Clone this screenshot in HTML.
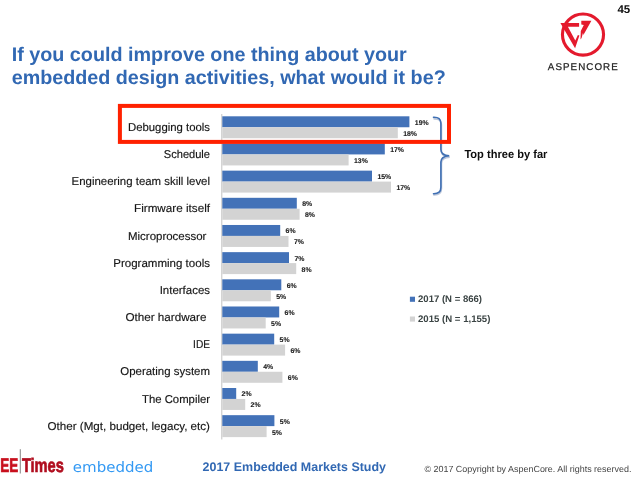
<!DOCTYPE html>
<html lang="en"><head><meta charset="utf-8"><title>2017 Embedded Markets Study</title>
<style>
html,body{margin:0;padding:0;background:#fff;}
body{width:637px;height:478px;overflow:hidden;font-family:"Liberation Sans",sans-serif;}
svg{display:block;}
text{font-family:"Liberation Sans",sans-serif;text-rendering:geometricPrecision;}
.t{font-weight:bold;font-size:19.67px;fill:#3168b3;}
.c{font-size:11.4px;fill:#141414;stroke:#141414;stroke-width:0.15px;}
.v{font-weight:bold;font-size:6.9px;fill:#222;stroke:#222;stroke-width:0.12px;}
.lg{font-weight:bold;font-size:9.5px;fill:#3b4444;}
</style></head><body>
<svg width="637" height="478" viewBox="0 0 637 478">
<rect width="637" height="478" fill="#fff"/>
<text x="617.4" y="12.6" font-weight="bold" font-size="11.3" fill="#111" textLength="12.8" lengthAdjust="spacingAndGlyphs">45</text>
<text class="t" x="11.7" y="61.1" textLength="395.1" lengthAdjust="spacingAndGlyphs">If you could improve one thing about your</text>
<text class="t" x="11.7" y="84.1" textLength="434" lengthAdjust="spacingAndGlyphs">embedded design activities, what would it be?</text>
<g id="aspencore">
<circle cx="583" cy="34.6" r="20.55" fill="none" stroke="#e41a2d" stroke-width="3.1"/>
<path d="M560.4 22.9 L579.1 22.9 L579.1 26.7 L567.9 26.7 L575.3 40.5 L577.9 35.1 L579.4 35.5 L575.1 48.2 Z" fill="#e41a2d"/>
<path d="M581.3 20.8 L591.4 20.8 L583.4 35.1 L583 32.7 L581.6 37.9 L580.5 39.6 L580.8 31.1 L583.8 25.1 L581.3 24.4 Z" fill="#e41a2d"/>
<text x="547.8" y="69.8" font-size="9.8" fill="#262626" stroke="#262626" stroke-width="0.25" textLength="70" lengthAdjust="spacing">ASPENCORE</text>
</g>
<rect x="221.3" y="114" width="1" height="325.5" fill="#c2c2c2"/>
<rect x="222.3" y="116.30" width="187.1" height="10.95" fill="#4372b8"/><rect x="222.3" y="127.25" width="175.5" height="11.0" fill="#d3d3d3"/>
<text class="c" x="128.0" y="130.85" textLength="82.0" lengthAdjust="spacingAndGlyphs">Debugging tools</text>
<text class="v" x="414.8" y="124.72">19%</text><text class="v" x="403.2" y="135.67">18%</text>
<rect x="222.3" y="143.47" width="162.5" height="10.95" fill="#4372b8"/><rect x="222.3" y="154.42" width="126.3" height="11.0" fill="#d3d3d3"/>
<text class="c" x="163.8" y="158.02" textLength="46.2" lengthAdjust="spacingAndGlyphs">Schedule</text>
<text class="v" x="390.2" y="151.89">17%</text><text class="v" x="354.0" y="162.84">13%</text>
<rect x="222.3" y="170.64" width="149.7" height="10.95" fill="#4372b8"/><rect x="222.3" y="181.59" width="168.7" height="11.0" fill="#d3d3d3"/>
<text class="c" x="71.6" y="185.19" textLength="138.4" lengthAdjust="spacingAndGlyphs">Engineering team skill level</text>
<text class="v" x="377.4" y="179.06">15%</text><text class="v" x="396.4" y="190.01">17%</text>
<rect x="222.3" y="197.81" width="74.5" height="10.95" fill="#4372b8"/><rect x="222.3" y="208.76" width="77.3" height="11.0" fill="#d3d3d3"/>
<text class="c" x="134.0" y="212.36" textLength="76.0" lengthAdjust="spacingAndGlyphs">Firmware itself</text>
<text class="v" x="302.2" y="206.23">8%</text><text class="v" x="305.0" y="217.19">8%</text>
<rect x="222.3" y="224.98" width="57.9" height="10.95" fill="#4372b8"/><rect x="222.3" y="235.93" width="66.2" height="11.0" fill="#d3d3d3"/>
<text class="c" x="128.0" y="239.53" textLength="78.4" lengthAdjust="spacingAndGlyphs">Microprocessor</text>
<text class="v" x="285.6" y="233.41">6%</text><text class="v" x="293.9" y="244.36">7%</text>
<rect x="222.3" y="252.15" width="66.7" height="10.95" fill="#4372b8"/><rect x="222.3" y="263.10" width="73.9" height="11.0" fill="#d3d3d3"/>
<text class="c" x="113.2" y="266.70" textLength="96.8" lengthAdjust="spacingAndGlyphs">Programming tools</text>
<text class="v" x="294.4" y="260.58">7%</text><text class="v" x="301.6" y="271.53">8%</text>
<rect x="222.3" y="279.32" width="59.0" height="10.95" fill="#4372b8"/><rect x="222.3" y="290.27" width="48.5" height="11.0" fill="#d3d3d3"/>
<text class="c" x="159.7" y="293.87" textLength="50.3" lengthAdjust="spacingAndGlyphs">Interfaces</text>
<text class="v" x="286.7" y="287.75">6%</text><text class="v" x="276.2" y="298.69">5%</text>
<rect x="222.3" y="306.49" width="56.9" height="10.95" fill="#4372b8"/><rect x="222.3" y="317.44" width="43.4" height="11.0" fill="#d3d3d3"/>
<text class="c" x="125.4" y="321.04" textLength="81.1" lengthAdjust="spacingAndGlyphs">Other hardware</text>
<text class="v" x="284.6" y="314.92">6%</text><text class="v" x="271.1" y="325.87">5%</text>
<rect x="222.3" y="333.66" width="51.9" height="10.95" fill="#4372b8"/><rect x="222.3" y="344.61" width="62.8" height="11.0" fill="#d3d3d3"/>
<text class="c" x="193.1" y="348.21" textLength="16.9" lengthAdjust="spacingAndGlyphs">IDE</text>
<text class="v" x="279.6" y="342.09">5%</text><text class="v" x="290.5" y="353.04">6%</text>
<rect x="222.3" y="360.83" width="35.5" height="10.95" fill="#4372b8"/><rect x="222.3" y="371.78" width="60.1" height="11.0" fill="#d3d3d3"/>
<text class="c" x="120.3" y="375.38" textLength="89.7" lengthAdjust="spacingAndGlyphs">Operating system</text>
<text class="v" x="263.2" y="369.26">4%</text><text class="v" x="287.8" y="380.21">6%</text>
<rect x="222.3" y="388.00" width="13.9" height="10.95" fill="#4372b8"/><rect x="222.3" y="398.95" width="22.9" height="11.0" fill="#d3d3d3"/>
<text class="c" x="142.0" y="402.55" textLength="68.0" lengthAdjust="spacingAndGlyphs">The Compiler</text>
<text class="v" x="241.6" y="396.43">2%</text><text class="v" x="250.6" y="407.38">2%</text>
<rect x="222.3" y="415.17" width="52.1" height="10.95" fill="#4372b8"/><rect x="222.3" y="426.12" width="44.3" height="11.0" fill="#d3d3d3"/>
<text class="c" x="47.5" y="429.72" textLength="162.5" lengthAdjust="spacingAndGlyphs">Other (Mgt, budget, legacy, etc)</text>
<text class="v" x="279.8" y="423.60">5%</text><text class="v" x="272.0" y="434.55">5%</text>
<g fill="none" stroke-linecap="round">
<path d="M433.5 117.9 C438.6 117.7 440.9 119.7 440.9 124.2 L440.9 149.9 C440.9 153.7 443.4 155.8 449.2 156.2 C443.4 156.6 440.9 158.7 440.9 162.5 L440.9 187.6 C440.9 192.1 438.6 194.1 433.5 194" stroke="#a9b7cf" stroke-width="1.7" opacity="0.8" transform="translate(0.5,0.9)"/>
<path d="M433.5 117.2 C438.6 117 440.9 119 440.9 123.5 L440.9 149.4 C440.9 153.2 443.4 155.3 449.2 155.7 C443.4 156.1 440.9 158.2 440.9 162 L440.9 187.2 C440.9 191.7 438.6 193.8 433.5 193.7" stroke="#3f6fb3" stroke-width="1.6"/>
</g>
<rect x="119.9" y="105.9" width="329.1" height="36" fill="none" stroke="#ff2100" stroke-width="4"/>
<text x="464.4" y="158.1" font-weight="bold" font-size="11.6" fill="#0d0d0d" textLength="83" lengthAdjust="spacingAndGlyphs">Top three by far</text>
<rect x="409.9" y="296.7" width="5.1" height="5.1" fill="#4372b8"/><text class="lg" x="418" y="302.3" textLength="64" lengthAdjust="spacingAndGlyphs">2017 (N = 866)</text>
<rect x="409.9" y="316.5" width="5.1" height="5.1" fill="#d3d3d3"/><text class="lg" x="418" y="322.2" textLength="72.4" lengthAdjust="spacingAndGlyphs">2015 (N = 1,155)</text>
<g id="eetimes">
<rect x="19.8" y="449.2" width="0.9" height="24.3" fill="#777"/>
<text x="0.3" y="472" font-weight="bold" font-size="19.5" fill="#c8101e" stroke="#c8101e" stroke-width="0.7" textLength="18" lengthAdjust="spacingAndGlyphs">EE</text>
<text x="21.9" y="472" font-weight="bold" font-size="19.5" fill="#b00d1e" stroke="#b00d1e" stroke-width="0.7" textLength="42" lengthAdjust="spacingAndGlyphs">Times</text>
<text x="72.8" y="472.3" style="font-family:'DejaVu Sans',sans-serif" font-size="14.4" fill="#3399f3" textLength="80.4" lengthAdjust="spacingAndGlyphs">embedded</text>
</g>
<text x="202.6" y="471.3" font-weight="bold" font-size="12.45" fill="#3168b3" textLength="183.4" lengthAdjust="spacingAndGlyphs">2017 Embedded Markets Study</text>
<text x="424.4" y="471.5" font-size="8.9" fill="#444" textLength="207" lengthAdjust="spacingAndGlyphs">© 2017 Copyright by AspenCore. All rights reserved.</text>
</svg>
</body></html>
